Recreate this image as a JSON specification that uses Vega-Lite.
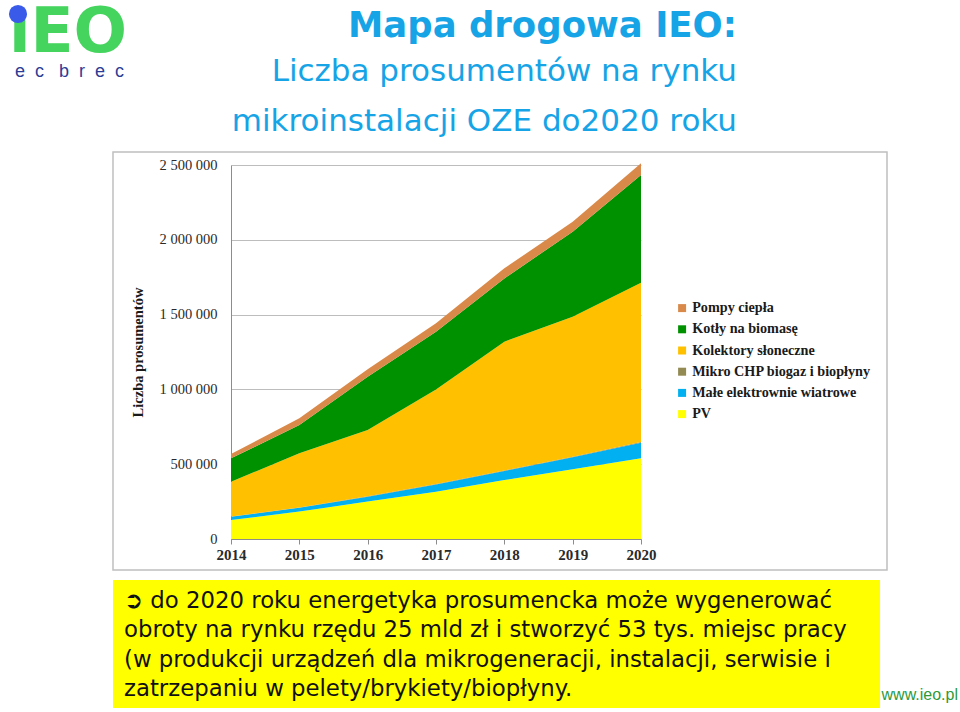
{
  "$schema": "https://vega.github.io/schema/vega-lite/v6.json",
  "width": 410,
  "height": 374,
  "autosize": "none",
  "padding": {"left": 231, "top": 165, "right": 319, "bottom": 173},
  "background": "white",
  "config": {
    "view": {"stroke": null},
    "locale": {"number": {"decimal": ",", "thousands": " ", "grouping": [3], "currency": ["", " zł"]}}
  },
  "title": {
    "text": "Mapa drogowa IEO:",
    "subtitle": ["Liczba prosumentów na rynku", "mikroinstalacji OZE do2020 roku"],
    "anchor": "end",
    "frame": "group",
    "dx": 96,
    "offset": -135,
    "font": "DejaVu Sans",
    "fontSize": 35.5,
    "fontWeight": "bold",
    "color": "#16A4E6",
    "subtitleFont": "DejaVu Sans",
    "subtitleFontSize": 31,
    "subtitleFontWeight": "normal",
    "subtitleColor": "#16A4E6",
    "subtitleLineHeight": 50,
    "subtitlePadding": 13
  },
  "datasets": {
    "prosumenci": [
      {"rok": 2014, "typ": "PV", "ord": 1, "liczba": 127000},
      {"rok": 2015, "typ": "PV", "ord": 1, "liczba": 183000},
      {"rok": 2016, "typ": "PV", "ord": 1, "liczba": 250000},
      {"rok": 2017, "typ": "PV", "ord": 1, "liczba": 316000},
      {"rok": 2018, "typ": "PV", "ord": 1, "liczba": 394000},
      {"rok": 2019, "typ": "PV", "ord": 1, "liczba": 466000},
      {"rok": 2020, "typ": "PV", "ord": 1, "liczba": 539000},
      {"rok": 2014, "typ": "Małe elektrownie wiatrowe", "ord": 2, "liczba": 22000},
      {"rok": 2015, "typ": "Małe elektrownie wiatrowe", "ord": 2, "liczba": 26000},
      {"rok": 2016, "typ": "Małe elektrownie wiatrowe", "ord": 2, "liczba": 33000},
      {"rok": 2017, "typ": "Małe elektrownie wiatrowe", "ord": 2, "liczba": 49000},
      {"rok": 2018, "typ": "Małe elektrownie wiatrowe", "ord": 2, "liczba": 61000},
      {"rok": 2019, "typ": "Małe elektrownie wiatrowe", "ord": 2, "liczba": 80000},
      {"rok": 2020, "typ": "Małe elektrownie wiatrowe", "ord": 2, "liczba": 105000},
      {"rok": 2014, "typ": "Mikro CHP biogaz i biopłyny", "ord": 3, "liczba": 1000},
      {"rok": 2015, "typ": "Mikro CHP biogaz i biopłyny", "ord": 3, "liczba": 1500},
      {"rok": 2016, "typ": "Mikro CHP biogaz i biopłyny", "ord": 3, "liczba": 2000},
      {"rok": 2017, "typ": "Mikro CHP biogaz i biopłyny", "ord": 3, "liczba": 2500},
      {"rok": 2018, "typ": "Mikro CHP biogaz i biopłyny", "ord": 3, "liczba": 3000},
      {"rok": 2019, "typ": "Mikro CHP biogaz i biopłyny", "ord": 3, "liczba": 3500},
      {"rok": 2020, "typ": "Mikro CHP biogaz i biopłyny", "ord": 3, "liczba": 4000},
      {"rok": 2014, "typ": "Kolektory słoneczne", "ord": 4, "liczba": 233000},
      {"rok": 2015, "typ": "Kolektory słoneczne", "ord": 4, "liczba": 362500},
      {"rok": 2016, "typ": "Kolektory słoneczne", "ord": 4, "liczba": 444000},
      {"rok": 2017, "typ": "Kolektory słoneczne", "ord": 4, "liczba": 632500},
      {"rok": 2018, "typ": "Kolektory słoneczne", "ord": 4, "liczba": 861000},
      {"rok": 2019, "typ": "Kolektory słoneczne", "ord": 4, "liczba": 936500},
      {"rok": 2020, "typ": "Kolektory słoneczne", "ord": 4, "liczba": 1065000},
      {"rok": 2014, "typ": "Kotły na biomasę", "ord": 5, "liczba": 156000},
      {"rok": 2015, "typ": "Kotły na biomasę", "ord": 5, "liczba": 189000},
      {"rok": 2016, "typ": "Kotły na biomasę", "ord": 5, "liczba": 356000},
      {"rok": 2017, "typ": "Kotły na biomasę", "ord": 5, "liczba": 386000},
      {"rok": 2018, "typ": "Kotły na biomasę", "ord": 5, "liczba": 423000},
      {"rok": 2019, "typ": "Kotły na biomasę", "ord": 5, "liczba": 568000},
      {"rok": 2020, "typ": "Kotły na biomasę", "ord": 5, "liczba": 720000},
      {"rok": 2014, "typ": "Pompy ciepła", "ord": 6, "liczba": 29000},
      {"rok": 2015, "typ": "Pompy ciepła", "ord": 6, "liczba": 45000},
      {"rok": 2016, "typ": "Pompy ciepła", "ord": 6, "liczba": 49000},
      {"rok": 2017, "typ": "Pompy ciepła", "ord": 6, "liczba": 56000},
      {"rok": 2018, "typ": "Pompy ciepła", "ord": 6, "liczba": 67000},
      {"rok": 2019, "typ": "Pompy ciepła", "ord": 6, "liczba": 67000},
      {"rok": 2020, "typ": "Pompy ciepła", "ord": 6, "liczba": 78000}
    ]
  },
  "layer": [
    {
      "data": {"values": [{"element": "ramka"}]},
      "mark": {"type": "rect", "filled": false, "stroke": "#BFBFBF", "strokeWidth": 1.5},
      "encoding": {
        "x": {"datum": 2012.273, "type": "quantitative"},
        "x2": {"datum": 2023.6},
        "y": {"datum": 2586898, "type": "quantitative"},
        "y2": {"datum": -207219}
      }
    },
    {
      "data": {"name": "prosumenci"},
      "mark": {"type": "area", "interpolate": "linear"},
      "encoding": {
        "x": {
          "field": "rok",
          "type": "quantitative",
          "scale": {"domain": [2014, 2020], "nice": false, "zero": false},
          "axis": {
            "title": null,
            "format": "d",
            "values": [2014, 2015, 2016, 2017, 2018, 2019, 2020],
            "grid": false,
            "labelFlush": false,
            "domainColor": "#8C8C8C",
            "tickColor": "#8C8C8C",
            "tickSize": 5,
            "labelFont": "Liberation Serif",
            "labelFontSize": 15,
            "labelFontWeight": "bold",
            "labelColor": "#2A2A2A",
            "labelPadding": 3
          }
        },
        "y": {
          "field": "liczba",
          "type": "quantitative",
          "stack": "zero",
          "scale": {"domain": [0, 2500000], "nice": false},
          "axis": {
            "title": "Liczba prosumentów",
            "values": [0, 500000, 1000000, 1500000, 2000000, 2500000],
            "format": ",d",
            "grid": true,
            "gridColor": "#BDBDBD",
            "domainColor": "#8C8C8C",
            "ticks": false,
            "labelFont": "Liberation Serif",
            "labelFontSize": 14.5,
            "labelColor": "#2A2A2A",
            "labelPadding": 14,
            "titleFont": "Liberation Serif",
            "titleFontSize": 14.5,
            "titleFontWeight": "bold",
            "titleColor": "#1A1A1A",
            "titlePadding": 14
          }
        },
        "color": {
          "field": "typ",
          "type": "nominal",
          "scale": {
            "domain": ["Pompy ciepła", "Kotły na biomasę", "Kolektory słoneczne", "Mikro CHP biogaz i biopłyny", "Małe elektrownie wiatrowe", "PV"],
            "range": ["#D98A4A", "#009100", "#FFC000", "#938953", "#00B0F0", "#FFFF00"]
          },
          "legend": {
            "title": null,
            "orient": "none",
            "legendX": 444,
            "legendY": 136,
            "symbolType": "square",
            "symbolSize": 64,
            "symbolStrokeWidth": 0,
            "labelFont": "Liberation Serif",
            "labelFontSize": 14.2,
            "labelFontWeight": "bold",
            "labelColor": "#1A1A1A",
            "labelLimit": 400,
            "labelOffset": 3,
            "rowPadding": 6.2
          }
        },
        "order": {"field": "ord", "type": "quantitative", "sort": "ascending"}
      }
    },
    {
      "data": {"values": [{"element": "pole"}]},
      "mark": {"type": "rect", "fill": "#FFFF00"},
      "encoding": {
        "x": {"datum": 2012.273, "type": "quantitative"},
        "x2": {"datum": 2023.498},
        "y": {"datum": -274064, "type": "quantitative"},
        "y2": {"datum": -1129679}
      }
    },
    {
      "data": {"values": [{"tekst": ["➲ do 2020 roku energetyka prosumencka może wygenerować", "obroty na rynku rzędu 25 mld zł i stworzyć 53 tys. miejsc pracy", "(w produkcji urządzeń dla mikrogeneracji, instalacji, serwisie i", "zatrzepaniu w pelety/brykiety/biopłyny."]}]},
      "mark": {"type": "text", "align": "left", "baseline": "alphabetic", "font": "DejaVu Sans", "fontSize": 22.8, "lineHeight": 29.3, "color": "#111111"},
      "encoding": {
        "text": {"field": "tekst"},
        "x": {"datum": 2012.434, "type": "quantitative"},
        "y": {"datum": -461230, "type": "quantitative"}
      }
    },
    {
      "data": {"values": [{"tekst": "www.ieo.pl"}]},
      "mark": {"type": "text", "align": "left", "baseline": "alphabetic", "font": "Liberation Sans", "fontSize": 16, "color": "#2E9A3A"},
      "encoding": {
        "text": {"field": "tekst"},
        "x": {"datum": 2023.52, "type": "quantitative"},
        "y": {"datum": -1076203, "type": "quantitative"}
      }
    },
    {
      "data": {"values": [{"tekst": "ıEO"}]},
      "mark": {"type": "text", "align": "left", "baseline": "alphabetic", "font": "DejaVu Sans", "fontSize": 63, "fontWeight": "bold", "color": "#45D45E"},
      "encoding": {
        "text": {"field": "tekst"},
        "x": {"datum": 2010.751, "type": "quantitative"},
        "y": {"datum": 3255347, "type": "quantitative"}
      }
    },
    {
      "data": {"values": [{"element": "kropka"}]},
      "mark": {"type": "circle", "size": 330, "color": "#3A5BEA", "opacity": 1},
      "encoding": {
        "x": {"datum": 2010.883, "type": "quantitative"},
        "y": {"datum": 3509357, "type": "quantitative"}
      }
    },
    {
      "data": {"values": [{"tekst": "e\u00a0\u00a0c\u00a0\u00a0\u00a0b\u00a0\u00a0r\u00a0\u00a0e\u00a0\u00a0c"}]},
      "mark": {"type": "text", "align": "left", "baseline": "alphabetic", "font": "Liberation Sans", "fontSize": 18, "color": "#2B3C96"},
      "encoding": {
        "text": {"field": "tekst"},
        "x": {"datum": 2010.839, "type": "quantitative"},
        "y": {"datum": 3088234, "type": "quantitative"}
      }
    }
  ]
}
